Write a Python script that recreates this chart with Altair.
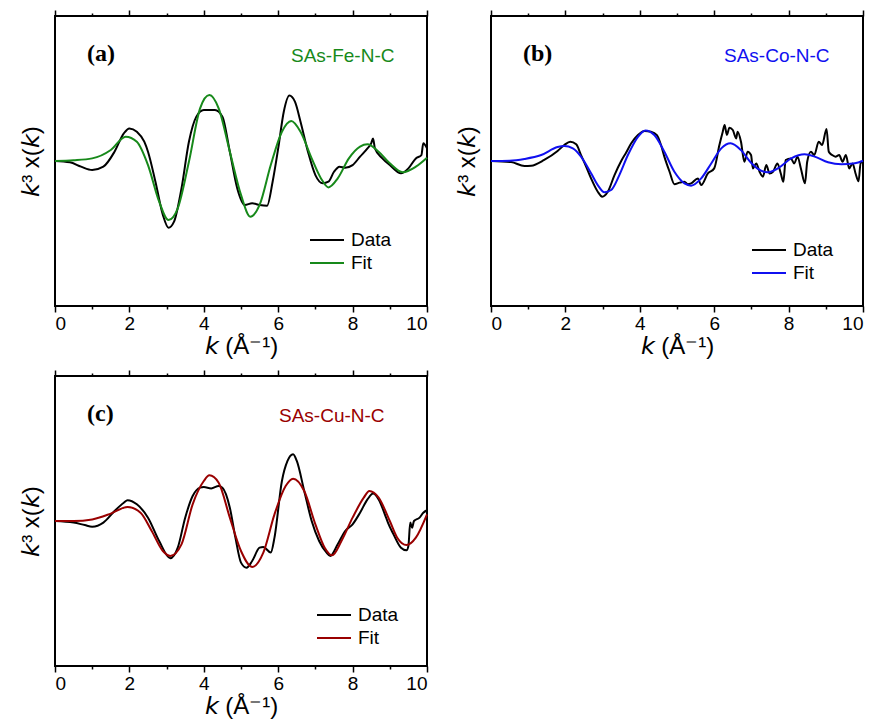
import altair as alt
import pandas as pd

FONT = "Liberation Sans"

# ---------------- panel (a) SAs-Fe-N-C ----------------
a_data_k = [0, 0.4, 0.7, 1.0, 1.3, 1.6, 1.85, 2.0, 2.2, 2.4,
            2.5, 2.7, 2.9, 3.05, 3.2, 3.4, 3.6, 3.8, 4.0, 4.3,
            4.5, 4.7, 4.9, 5.1, 5.3, 5.5, 5.7, 5.85, 6.0, 6.15,
            6.3, 6.45, 6.6, 6.8, 7.0, 7.2, 7.35, 7.5, 7.65, 7.8,
            8.0, 8.2, 8.4, 8.5, 8.55, 8.6, 8.8, 9.0, 9.3, 9.5,
            9.7, 9.85, 9.9, 10]
a_data_v = [0, -0.009, -0.039, -0.062, -0.039, 0.064, 0.191, 0.225, 0.202, 0.133,
            0.064, -0.143, -0.372, -0.460, -0.418, -0.189, 0.133, 0.306, 0.352, 0.352,
            0.306, 0.064, -0.189, -0.303, -0.292, -0.303, -0.308, -0.143, 0.087, 0.340,
            0.451, 0.409, 0.271, 0.064, -0.097, -0.154, -0.143, -0.074, -0.039, -0.046,
            -0.028, 0.030, 0.087, 0.122, 0.156, 0.087, 0.018, -0.028, -0.085, -0.051,
            0.018, 0.041, 0.122, 0.087]
a_fit_k = [0, 0.5, 1.0, 1.5, 1.9, 2.2, 2.5, 2.8, 3.05, 3.3,
           3.6, 3.9, 4.15, 4.4, 4.7, 5.0, 5.25, 5.5, 5.8, 6.1,
           6.35, 6.6, 6.9, 7.15, 7.35, 7.6, 7.9, 8.2, 8.4, 8.7,
           9.0, 9.35, 9.7, 10]
a_fit_v = [0, 0.005, 0.018, 0.076, 0.168, 0.133, -0.028, -0.280, -0.407, -0.326,
           -0.005, 0.363, 0.455, 0.363, 0.064, -0.234, -0.384, -0.303, -0.028, 0.202,
           0.276, 0.202, 0.018, -0.120, -0.182, -0.120, 0.018, 0.099, 0.115, 0.064,
           -0.016, -0.078, -0.039, 0.023]

# ---------------- panel (b) SAs-Co-N-C ----------------
b_data_k = [0, 0.54, 0.9, 1.08, 1.43, 1.79, 1.97, 2.13, 2.29, 2.42,
            2.56, 2.69, 2.87, 2.99, 3.14, 3.32, 3.5, 3.63, 3.77, 3.95,
            4.13, 4.3, 4.46, 4.57, 4.66, 4.8, 4.93, 5.07, 5.2, 5.29,
            5.38, 5.56, 5.65, 5.83, 6.0, 6.14, 6.23, 6.28, 6.34, 6.41,
            6.5, 6.59, 6.63, 6.72, 6.81, 6.9, 6.99, 7.04, 7.13, 7.22,
            7.31, 7.4, 7.49, 7.58, 7.7, 7.79, 7.86, 7.92, 8.06, 8.15,
            8.24, 8.33, 8.44, 8.5, 8.6, 8.69, 8.81, 8.9, 9.02, 9.08,
            9.17, 9.26, 9.36, 9.45, 9.54, 9.63, 9.72, 9.8, 9.88, 9.94,
            10]
b_data_v = [0, -0.007, -0.035, -0.033, 0.007, 0.069, 0.11, 0.133, 0.115, 0.041,
            -0.040, -0.12, -0.212, -0.246, -0.212, -0.097, 0, 0.057, 0.122, 0.179,
            0.207, 0.202, 0.179, 0.11, 0.030, -0.074, -0.16, -0.149, -0.143, -0.16,
            -0.154, -0.12, -0.166, -0.086, -0.051, 0.11, 0.202, 0.248, 0.18, 0.23,
            0.214, 0.156, 0.202, 0.133, -0.005, 0.064, 0.041, -0.051, -0.017, -0.074,
            -0.108, -0.028, -0.086, -0.074, -0.017, -0.086, -0.143, 0.007, 0.018, -0.017,
            0.030, -0.051, -0.154, -0.005, 0.064, 0.041, 0.133, 0.11, 0.221, 0.064,
            0.041, 0.030, 0.041, -0.005, 0.041, -0.051, -0.017, -0.086, -0.14, -0.005,
            -0.017]
b_fit_k = [0, 0.5, 0.9, 1.35, 1.79, 1.97, 2.2, 2.42, 2.69, 2.87,
           3.05, 3.23, 3.45, 3.68, 3.95, 4.15, 4.39, 4.66, 4.93, 5.2,
           5.38, 5.65, 5.92, 6.19, 6.44, 6.72, 6.99, 7.26, 7.44, 7.71,
           8.07, 8.43, 8.7, 9.06, 9.42, 9.78, 10]
b_fit_v = [0, 0.002, 0.014, 0.041, 0.096, 0.103, 0.087, 0.03, -0.085, -0.166,
           -0.216, -0.2, -0.097, 0.041, 0.167, 0.211, 0.179, 0.064, -0.074, -0.154,
           -0.17, -0.12, -0.017, 0.087, 0.122, 0.075, -0.012, -0.067, -0.078, -0.051,
           0.018, 0.046, 0.030, -0.009, -0.023, -0.016, 0.002]

# ---------------- panel (c) SAs-Cu-N-C ----------------
c_data_k = [0, 0.5, 0.8, 1.0, 1.3, 1.6, 1.85, 1.95, 2.2, 2.5,
            2.8, 3.1, 3.3, 3.5, 3.7, 3.9, 4.0, 4.2, 4.4, 4.5,
            4.7, 4.85, 5.0, 5.15, 5.3, 5.5, 5.6, 5.8, 5.9, 6.1,
            6.25, 6.4, 6.5, 6.7, 6.9, 7.1, 7.3, 7.4, 7.6, 7.8,
            8.0, 8.2, 8.4, 8.55, 8.7, 8.9, 8.95, 9.1, 9.3, 9.45,
            9.5, 9.55, 9.6, 9.65, 9.8, 9.9, 10]
c_data_v = [0, -0.011, -0.028, -0.039, -0.011, 0.069, 0.126, 0.143, 0.115, 0.023,
            -0.138, -0.257, -0.184, 0.023, 0.172, 0.230, 0.234, 0.225, 0.241, 0.230,
            0.092, -0.115, -0.287, -0.322, -0.276, -0.184, -0.179, -0.218, -0.115, 0.276,
            0.414, 0.460, 0.414, 0.207, 0, -0.138, -0.218, -0.241, -0.161, -0.069,
            -0.023, 0.057, 0.149, 0.189, 0.149, 0.023, -0.011, -0.092, -0.184, -0.202,
            -0.172, -0.011, -0.046, 0, 0.023, 0.057, 0.074]
c_fit_k = [0, 0.5, 1.0, 1.5, 1.95, 2.3, 2.6, 2.9, 3.1, 3.4,
           3.7, 4.0, 4.15, 4.4, 4.7, 5.0, 5.3, 5.6, 5.9, 6.2,
           6.4, 6.7, 7.0, 7.25, 7.45, 7.7, 8.0, 8.3, 8.45, 8.7,
           9.0, 9.2, 9.45, 9.7, 10]
c_fit_v = [0, 0, 0.011, 0.051, 0.097, 0.057, -0.069, -0.207, -0.241, -0.161,
           0.115, 0.276, 0.315, 0.264, 0.023, -0.207, -0.317, -0.218, 0.046, 0.241,
           0.292, 0.207, -0.023, -0.184, -0.237, -0.138, 0.023, 0.161, 0.207, 0.161,
           0, -0.115, -0.166, -0.115, 0.046]

series_names = ["Data", "Fit"]
x_ticks = list(range(0, 11))

W, H = 372, 290

TICK_SIZE = {"condition": {"test": "datum.value % 2 === 0", "value": 6}, "value": 3}


def y_axis():
    return alt.Axis(title="𝘬³ x(𝘬)", labels=False, ticks=False, domain=False, grid=False,
                    titleFontSize=24, titlePadding=12)


def make_panel(dk, dv, fk, fv, color, tag, name, name_x, leg_x, leg_y):
    df = pd.concat([
        pd.DataFrame({"k": dk, "v": dv, "s": series_names[0]}),
        pd.DataFrame({"k": fk, "v": fv, "s": series_names[1]}),
    ], ignore_index=True)
    xs = alt.Scale(domain=[0, 10], nice=False, zero=False)
    ys = alt.Scale(domain=[-1, 1], nice=False, zero=False)

    lines = alt.Chart(df).mark_line(strokeWidth=2, interpolate="monotone").encode(
        x=alt.X("k:Q", scale=xs, axis=alt.Axis(
            title="𝘬 (Å⁻¹)", values=x_ticks, tickSize=TICK_SIZE,
            labelExpr="datum.value % 2 === 0 ? datum.label : ''",
            labelFontSize=19, titleFontSize=24, labelPadding=2, titlePadding=1,
            domain=False, grid=False)),
        y=alt.Y("v:Q", scale=ys, axis=y_axis()),
        color=alt.Color("s:N", scale=alt.Scale(domain=series_names, range=["black", color]),
                        legend=alt.Legend(title=None, orient="none", legendX=leg_x, legendY=leg_y,
                                          symbolType="stroke", symbolSize=1156, symbolStrokeWidth=2,
                                          labelFont=FONT, labelFontSize=19, labelColor="black",
                                          labelOffset=6, clipHeight=20, rowPadding=3, padding=0)),
        order=alt.Order("s:N"),
    )

    top_axis = alt.Chart(df).mark_line(opacity=0).encode(
        x=alt.X("k:Q", scale=xs, axis=alt.Axis(
            orient="top", title=None, labels=False, values=x_ticks, tickSize=TICK_SIZE,
            domain=False, grid=False)),
        y=alt.Y("v:Q", scale=ys, axis=y_axis()),
    )

    tag_text = alt.Chart(pd.DataFrame({"t": [tag]})).mark_text(
        font="Liberation Serif", fontWeight="bold", fontSize=24, align="left",
        baseline="middle", color="black").encode(
        x=alt.value(32), y=alt.value(38), text="t:N")

    name_text = alt.Chart(pd.DataFrame({"t": [name]})).mark_text(
        font=FONT, fontSize=19, align="left", baseline="middle", color=color).encode(
        x=alt.value(name_x), y=alt.value(40), text="t:N")

    return alt.layer(lines, top_axis, tag_text, name_text).resolve_axis(x="independent").properties(
        width=W, height=H)


pa = make_panel(a_data_k, a_data_v, a_fit_k, a_fit_v, "#17891a", "(a)", "SAs-Fe-N-C", 236, 254, 214)
pb = make_panel(b_data_k, b_data_v, b_fit_k, b_fit_v, "#1010f0", "(b)", "SAs-Co-N-C", 233, 260, 224)
pc = make_panel(c_data_k, c_data_v, c_fit_k, c_fit_v, "#990000", "(c)", "SAs-Cu-N-C", 224, 261, 229)

top_row = alt.hconcat(pa, pb, spacing=22).resolve_scale(color="independent")
chart = alt.vconcat(top_row, pc, spacing=9).resolve_scale(color="independent").properties(
    padding={"left": 18, "top": 8, "right": 0, "bottom": 0}
).configure_view(
    stroke="black", strokeWidth=2
).configure_axis(
    labelFont=FONT, titleFont=FONT, labelColor="black", titleColor="black",
    titleFontWeight="normal", tickColor="black", tickWidth=1.5
)

chart.save("out.html", embed_options={"renderer": "svg", "actions": False})
